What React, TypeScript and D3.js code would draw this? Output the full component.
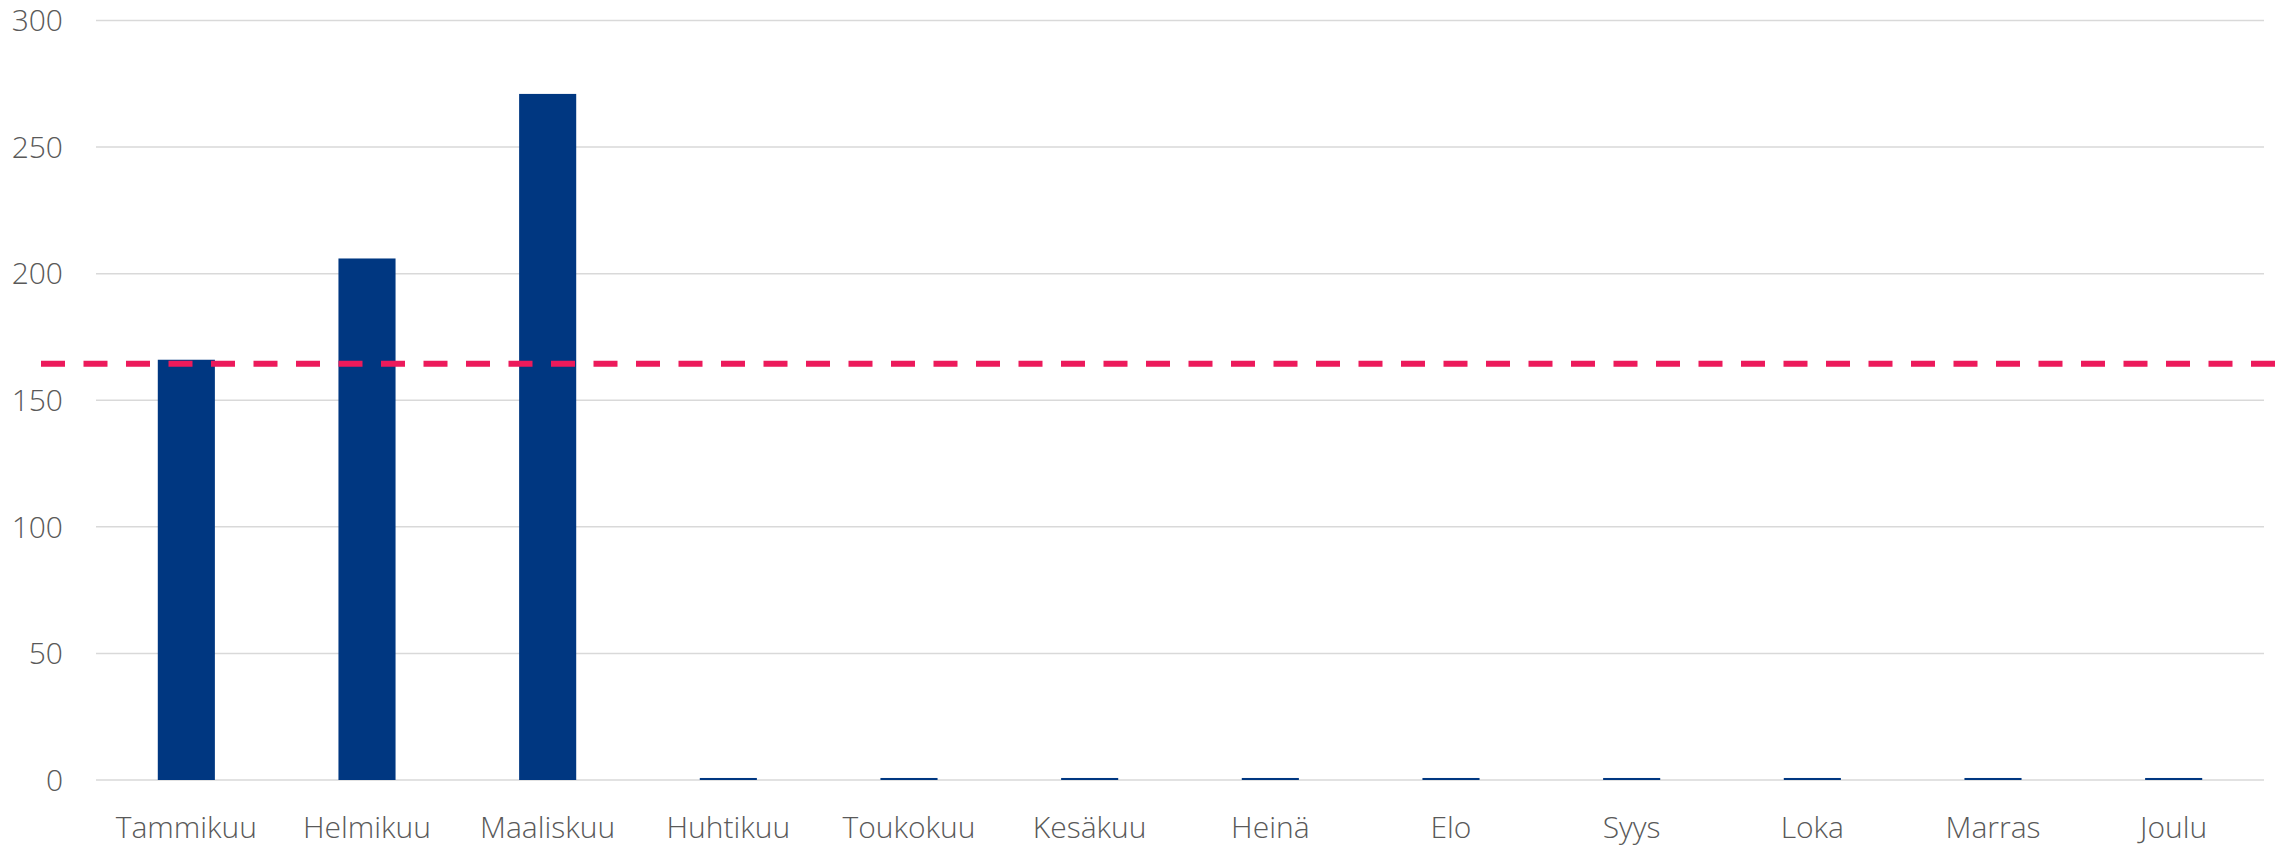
import React from "react";
import * as d3 from "d3";

const months = ["Tammikuu","Helmikuu","Maaliskuu","Huhtikuu","Toukokuu","Kesäkuu","Heinä","Elo","Syys","Loka","Marras","Joulu"];
const values = [166, 206, 271, 0.8, 0.8, 0.8, 0.8, 0.8, 0.8, 0.8, 0.8, 0.8];
const average = [164.4];
const yTicks = [0, 50, 100, 150, 200, 250, 300];

const W = 2277, H = 846;
const left = 96, right = 2264, top = 20.5, bottom = 780;

export default function App() {
  const x = d3.scaleBand<string>().domain(months).range([left, right]).padding(0);
  const y = d3.scaleLinear().domain([0, 300]).range([bottom, top]);
  const bw = x.step() * 0.316;
  const font = "'Open Sans', 'Noto Sans', sans-serif";
  return (
    <svg width={W} height={H} style={{ position: "absolute", left: 0, top: 0, background: "#fff" }}>
      {yTicks.map(t => (
        <g key={t}>
          <line x1={left} x2={right} y1={y(t)} y2={y(t)} stroke="#D9D9D9" strokeWidth={1.5} />
          <text x={63} y={y(t)} dy="0.36em" textAnchor="end" fontFamily={font} fontWeight={300} fontSize={30} fill="#595959">{t}</text>
        </g>
      ))}
      {months.map((m, i) => {
        const cx = (x(m) as number) + x.bandwidth() / 2;
        return (
          <g key={m}>
            <rect x={cx - bw / 2} y={y(values[i])} width={bw} height={bottom - y(values[i])} fill="#003781" />
            <text x={cx} y={838} textAnchor="middle" fontFamily={font} fontWeight={300} fontSize={30} fill="#595959">{m}</text>
          </g>
        );
      })}
      <line x1={41} x2={W} y1={y(average[0])} y2={y(average[0])} stroke="#EC1A5B" strokeWidth={6} strokeDasharray="24 18.5" />
    </svg>
  );
}
